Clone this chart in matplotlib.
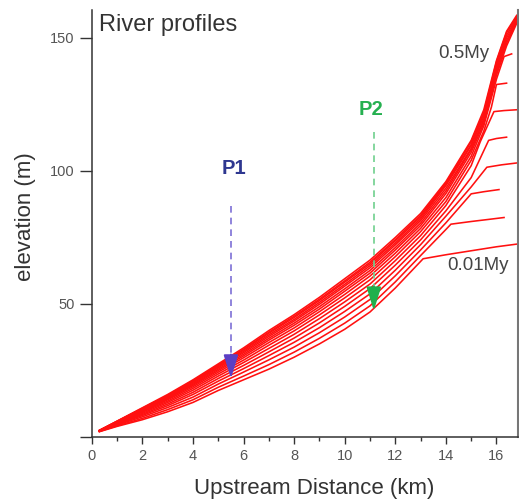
import matplotlib
matplotlib.use("Agg")
import matplotlib.pyplot as plt

plt.rcParams['font.family'] = ['Liberation Sans', 'DejaVu Sans']

# ---- data ----
x_low = [0.3, 1, 2, 3, 4, 5, 6, 7, 8, 9, 10, 11, 12, 13]

# elevations along x_low, youngest (0.01My, lowest) to oldest (0.5My, highest)
profile_low = [
    [2.0, 4.0, 6.5, 9.5, 13.0, 17.5, 21.5, 25.5, 30.0, 35.0, 40.5, 47.0, 56.0, 66.0],
    [2.1, 4.2, 7.0, 10.3, 14.0, 18.7, 22.9, 27.2, 31.9, 37.1, 42.8, 49.3, 58.3, 68.2],
    [2.1, 4.5, 7.6, 11.1, 15.0, 19.9, 24.4, 29.0, 33.8, 39.2, 45.1, 51.7, 60.6, 70.3],
    [2.2, 4.7, 8.1, 11.8, 16.0, 21.0, 25.7, 30.6, 35.6, 41.1, 47.2, 53.8, 62.7, 72.3],
    [2.2, 4.9, 8.5, 12.4, 16.8, 22.0, 26.9, 32.0, 37.2, 42.9, 49.1, 55.8, 64.6, 74.1],
    [2.3, 5.1, 8.9, 13.0, 17.6, 22.9, 28.0, 33.3, 38.6, 44.5, 50.8, 57.5, 66.3, 75.7],
    [2.3, 5.2, 9.3, 13.5, 18.3, 23.7, 28.9, 34.5, 39.9, 45.9, 52.3, 59.1, 67.8, 77.2],
    [2.3, 5.4, 9.6, 14.0, 18.9, 24.4, 29.8, 35.5, 41.0, 47.1, 53.6, 60.5, 69.1, 78.4],
    [2.4, 5.5, 9.9, 14.4, 19.4, 25.0, 30.5, 36.4, 42.0, 48.1, 54.8, 61.6, 70.3, 79.5],
    [2.4, 5.6, 10.1, 14.7, 19.8, 25.5, 31.1, 37.1, 42.8, 49.0, 55.7, 62.6, 71.2, 80.4],
    [2.4, 5.7, 10.3, 15.0, 20.2, 26.0, 31.7, 37.8, 43.6, 49.9, 56.7, 63.6, 72.2, 81.3],
    [2.4, 5.8, 10.5, 15.3, 20.6, 26.4, 32.2, 38.4, 44.2, 50.6, 57.4, 64.4, 72.9, 82.0],
    [2.5, 5.9, 10.7, 15.5, 20.9, 26.8, 32.7, 39.0, 44.9, 51.3, 58.2, 65.1, 73.7, 82.7],
    [2.5, 5.9, 10.8, 15.7, 21.2, 27.1, 33.0, 39.4, 45.4, 51.8, 58.7, 65.7, 74.2, 83.3],
    [2.5, 6.0, 11.0, 16.0, 21.5, 27.5, 33.5, 40.0, 46.0, 52.5, 59.5, 66.5, 75.0, 84.0],
]

# upstream part of each profile: knickpoint and relict plateau
profile_tail_x = [
    [13.1, 14, 15, 16, 16.8],
    [14, 14.2, 15, 15.7, 16.3],
    [14, 15.0, 15.5, 16.1],
    [14, 15, 15.62, 16.2, 16.8],
    [14, 15, 15.69, 16.0, 16.4],
    [14, 15, 15.36, 15.9, 16.3, 16.8],
    [14, 15, 15.5, 15.8, 16.0, 16.4],
    [14, 15, 15.5, 16.0, 16.3, 16.6],
    [14, 15, 15.5, 16.0, 16.4, 16.8],
    [14, 15, 15.5, 16.0, 16.4, 16.8],
    [14, 15, 15.5, 16.0, 16.4, 16.8],
    [14, 15, 15.5, 16.0, 16.4, 16.8],
    [14, 15, 15.5, 16.0, 16.4, 16.8],
    [14, 15, 15.5, 16.0, 16.4, 16.8],
    [14, 15, 15.5, 16.0, 16.4, 16.8],
]
profile_tail_y = [
    [67.0, 68.5, 70.0, 71.5, 72.5],
    [78.0, 80.0, 81.0, 81.8, 82.5],
    [80.5, 91.4, 92.2, 93.0],
    [83.0, 94.0, 101.4, 102.3, 103.0],
    [85.0, 97.5, 111.5, 112.2, 112.7],
    [87.0, 102.0, 111.0, 122.3, 122.7, 123.0],
    [88.5, 104.0, 115.0, 124.0, 132.5, 133.0],
    [90.0, 105.5, 117.0, 134.5, 143.0, 144.0],
    [91.5, 107.0, 118.0, 136.0, 147.0, 155.5],
    [92.5, 108.0, 119.0, 137.0, 148.0, 156.0],
    [93.5, 108.5, 119.5, 138.0, 149.0, 156.5],
    [94.5, 109.5, 120.5, 139.0, 150.0, 157.0],
    [95.0, 110.0, 121.5, 140.0, 151.0, 157.5],
    [95.5, 111.0, 122.0, 141.0, 152.0, 158.0],
    [96.0, 111.5, 123.0, 141.5, 152.5, 158.5],
]

age_labels = ["0.5My", "0.01My"]
points = ["P1", "P2"]
point_x = [5.5, 11.15]
point_top = [87, 114.5]
point_bottom = [22, 47.5]

x_ticks = [0, 2, 4, 6, 8, 10, 12, 14, 16]
y_ticks = [0, 50, 100, 150]
y_ticklabels = ["", "50", "100", "150"]

# ---- figure ----
fig = plt.figure(figsize=(5.19, 5.0), dpi=100)
ax = fig.add_axes([0.177, 0.126, 0.821, 0.854])

for ylow, tx, ty in zip(profile_low, profile_tail_x, profile_tail_y):
    ax.plot(x_low + tx, ylow + ty, color='#ff1010', lw=1.15, solid_joinstyle='round')

# P1 / P2 markers
p_text_col = ['#2e3790', '#25b050']
p_dash_col = ['#7d70d6', '#6fd08e']
p_head_col = ['#5b3fc4', '#20b04c']
p_label_y = [101, 123]
p_label_x = [5.6, 11.05]
for i in range(2):
    ax.plot([point_x[i], point_x[i]], [point_top[i], point_bottom[i] + 7],
            ls=(0, (4, 3)), color=p_dash_col[i], lw=1.2)
    ax.annotate('', xy=(point_x[i], point_bottom[i]),
                xytext=(point_x[i], point_bottom[i] + 9),
                arrowprops=dict(arrowstyle='-|>,head_length=0.9,head_width=0.28',
                                color=p_head_col[i], lw=1.4,
                                mutation_scale=16, shrinkA=0, shrinkB=0))
    ax.text(p_label_x[i], p_label_y[i], points[i], color=p_text_col[i],
            fontsize=14.5, fontweight='bold', ha='center', va='center')

ax.text(0.3, 155, "River profiles", fontsize=17, color='#333333',
        ha='left', va='center')
ax.text(14.7, 144, age_labels[0], fontsize=13.5, color='#444444',
        ha='center', va='center')
ax.text(15.26, 64.5, age_labels[1], fontsize=13.5, color='#444444',
        ha='center', va='center')

ax.set_xlim(0, 16.85)
ax.set_ylim(0, 160.5)
ax.set_xticks(x_ticks)
ax.set_xticks(list(range(1, 17, 2)), minor=True)
ax.set_yticks(y_ticks)
ax.set_yticklabels(y_ticklabels)
ax.tick_params(axis='both', which='major', direction='out', length=5, width=1,
               color='#333333', labelcolor='#555555', labelsize=10.5)
ax.tick_params(axis='x', which='minor', direction='out', length=3, width=1,
               color='#333333')
ax.tick_params(axis='y', which='major', length=9)

ax.spines['top'].set_visible(False)
for s in ['left', 'bottom']:
    ax.spines[s].set_color('#333333')
    ax.spines[s].set_linewidth(1.1)
ax.spines['right'].set_color('#777777')
ax.spines['right'].set_linewidth(1.5)

ax.set_xlabel("Upstream Distance (km)", fontsize=16, color='#333333')
ax.set_ylabel("elevation (m)", fontsize=16, color='#333333')
ax.xaxis.set_label_coords(0.521, -0.095)
ax.yaxis.set_label_coords(-0.13, 0.515)

fig.savefig("out.png", dpi=100)
